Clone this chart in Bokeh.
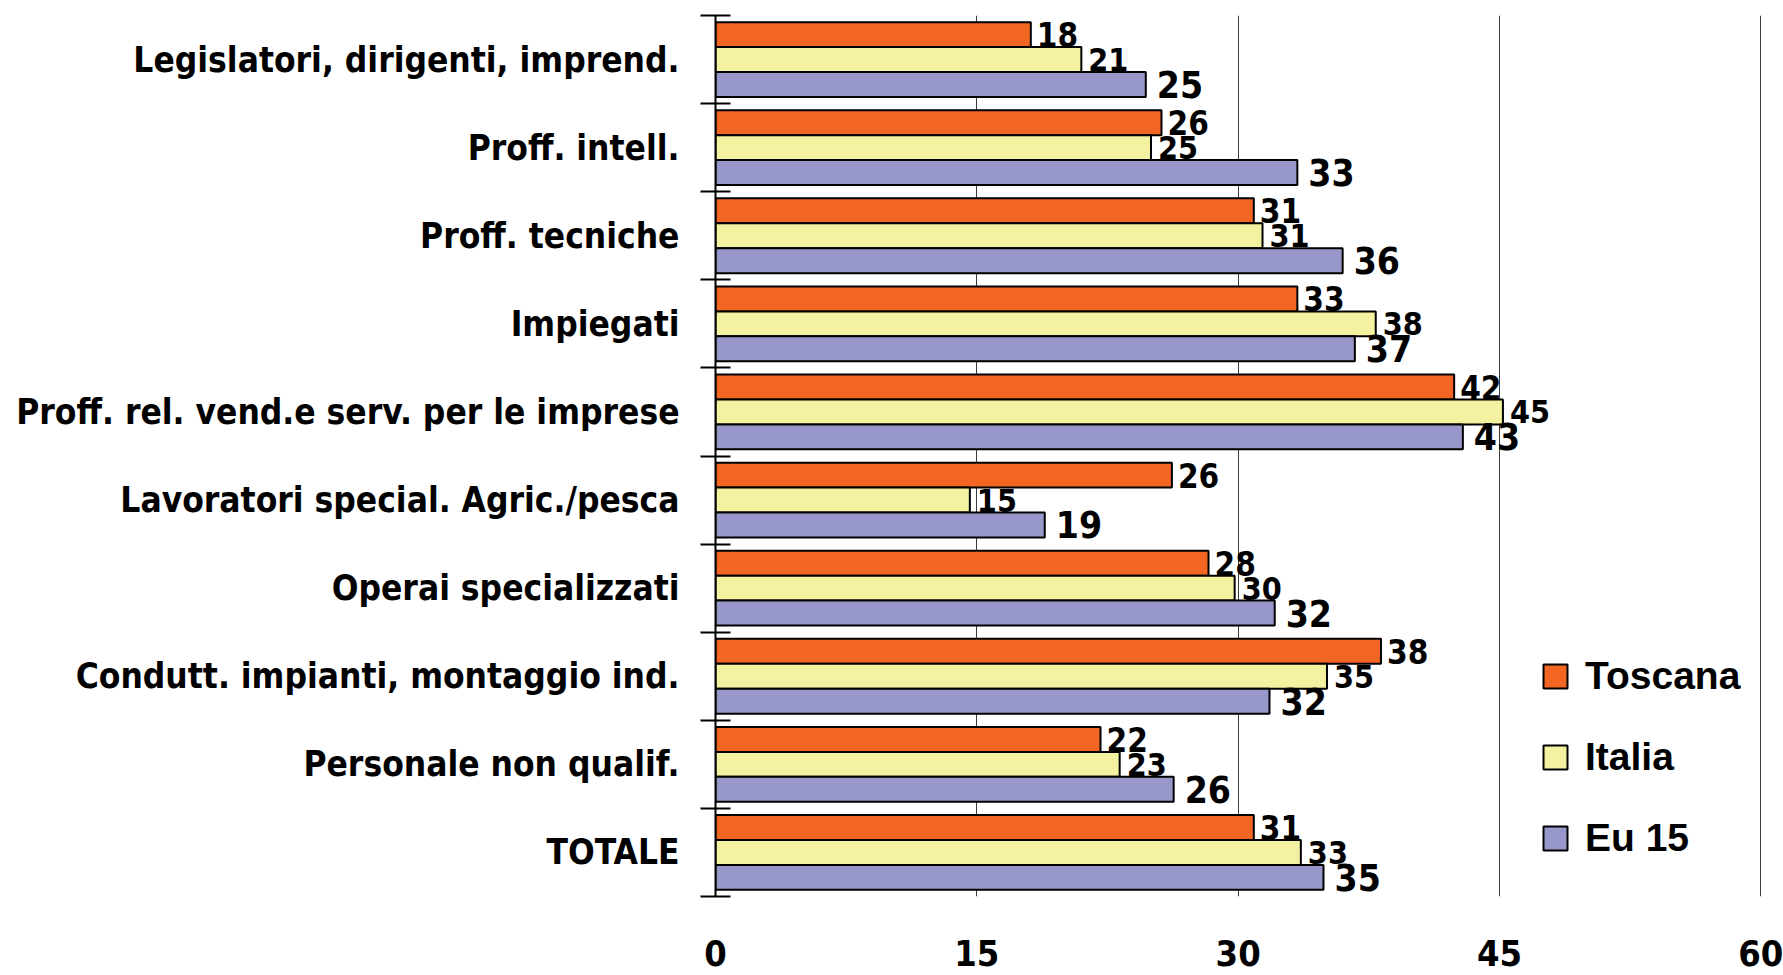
from bokeh.plotting import figure
from bokeh.models import (ColumnDataSource, Range1d, FixedTicker, Legend, LegendItem)
from bokeh.core.properties import value
from bokeh.embed import file_html
from bokeh.resources import INLINE

categories = [
    "Legislatori, dirigenti, imprend.",
    "Proff. intell.",
    "Proff. tecniche",
    "Impiegati",
    "Proff. rel. vend.e serv. per le imprese",
    "Lavoratori special. Agric./pesca",
    "Operai specializzati",
    "Condutt. impianti, montaggio ind.",
    "Personale non qualif.",
    "TOTALE",
]
series_names = ["Toscana", "Italia", "Eu 15"]
toscana = [18.1, 25.6, 30.9, 33.4, 42.4, 26.2, 28.3, 38.2, 22.1, 30.9]
italia = [21.0, 25.0, 31.4, 37.9, 45.2, 14.6, 29.8, 35.1, 23.2, 33.6]
eu15 = [24.7, 33.4, 36.0, 36.7, 42.9, 18.9, 32.1, 31.8, 26.3, 34.9]
toscana_labels = ["18", "26", "31", "33", "42", "26", "28", "38", "22", "31"]
italia_labels = ["21", "25", "31", "38", "45", "15", "30", "35", "23", "33"]
eu15_labels = ["25", "33", "36", "37", "43", "19", "32", "32", "26", "35"]
x_ticks = [0, 15, 30, 45, 60]

colors = ["#F26522", "#F4F1A0", "#9797C9"]
label_sizes = ["33px", "32px", "37px"]
label_offsets = [6, 7, 11]
NARROW = "DejaVu Sans Condensed"

n = len(categories)
centers = [n - i - 0.5 for i in range(n)]
bar_h = 0.283
shifts = [bar_h, 0.0, -bar_h]

p = figure(width=1783, height=975, output_backend="svg", toolbar_location=None,
           x_range=Range1d(0, 60.1), y_range=Range1d(0, n),
           min_border_left=715, min_border_right=21, min_border_top=15, min_border_bottom=79)
p.outline_line_color = None
p.background_fill_color = "white"

legend_items = []
for vals, labs, col, sh, fs, off, name in zip([toscana, italia, eu15],
                                             [toscana_labels, italia_labels, eu15_labels],
                                             colors, shifts, label_sizes, label_offsets, series_names):
    src = ColumnDataSource(dict(y=[c + sh for c in centers], v=vals, lab=labs))
    r = p.hbar(y="y", right="v", left=0, height=bar_h, source=src,
               fill_color=col, line_color="black", line_width=2)
    p.text(x="v", y="y", text="lab", source=src, x_offset=off,
           text_font=value(NARROW), text_font_style="bold", text_font_size=fs,
           text_baseline="middle", text_align="left", text_color="black")
    legend_items.append(LegendItem(label=name, renderers=[r]))

# x axis
xa = p.xaxis[0]
xa.ticker = FixedTicker(ticks=x_ticks)
xa.axis_line_color = None
xa.major_tick_line_color = None
xa.minor_tick_line_color = None
xa.major_label_text_font = NARROW
xa.major_label_text_font_style = "bold"
xa.major_label_text_font_size = "36px"
xa.major_label_text_color = "black"
xa.major_label_standoff = 37

# y axis
ya = p.yaxis[0]
ya.ticker = FixedTicker(ticks=centers, minor_ticks=list(range(n + 1)))
ya.major_label_overrides = {c: cat for c, cat in zip(centers, categories)}
ya.major_tick_line_color = None
ya.major_tick_in = 0
ya.major_tick_out = 0
ya.minor_tick_line_color = "black"
ya.minor_tick_line_width = 2
ya.minor_tick_in = 15
ya.minor_tick_out = 15
ya.axis_line_color = "black"
ya.axis_line_width = 2
ya.major_label_text_font = NARROW
ya.major_label_text_font_style = "bold"
ya.major_label_text_font_size = "35px"
ya.major_label_text_color = "black"
ya.major_label_standoff = 21

p.ygrid.grid_line_color = None
p.xgrid.ticker = FixedTicker(ticks=x_ticks[1:])
p.xgrid.grid_line_color = "#3a3a3a"
p.xgrid.grid_line_width = 1

legend = Legend(items=legend_items, location=(825, 36), orientation="vertical",
                glyph_width=30, glyph_height=30, label_height=30, spacing=37,
                padding=0, margin=0, label_standoff=15,
                label_text_font="Liberation Sans", label_text_font_style="bold",
                label_text_font_size="39px", label_text_color="black",
                border_line_color=None, background_fill_alpha=0)
p.add_layout(legend)

open("out.html", "w").write(file_html(p, INLINE))
